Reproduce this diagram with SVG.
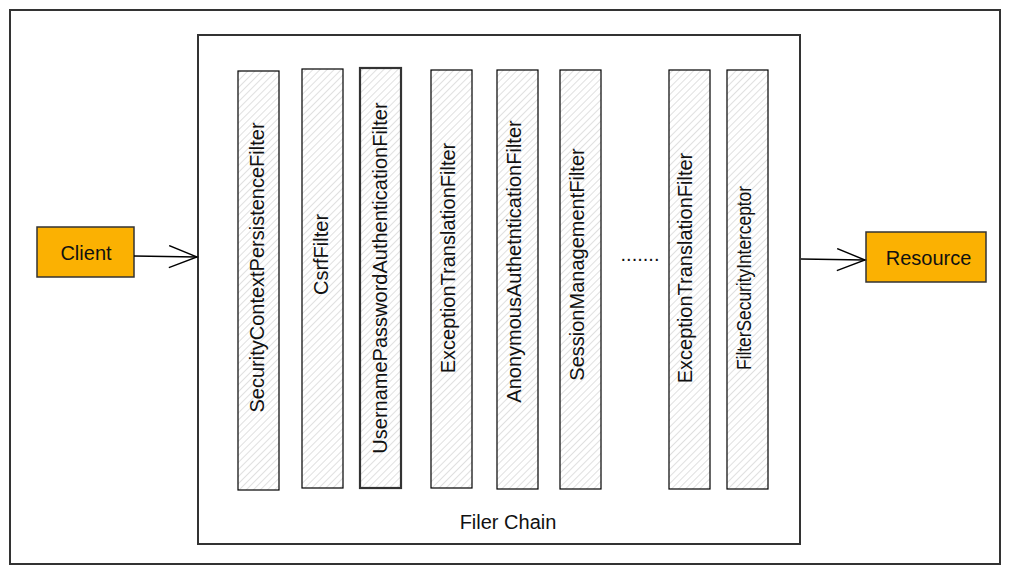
<svg xmlns="http://www.w3.org/2000/svg" width="1010" height="574" viewBox="0 0 1010 574">
<style>
text{font-family:"Liberation Sans",Arial,sans-serif;font-size:20px;fill:#111}
.frame{fill:#fff;stroke:#333;stroke-width:2}
.filter{fill:url(#hatch);stroke:#000;stroke-width:1.2}
.filter.bold{stroke:#333;stroke-width:2.2}
.ext{fill:#FBB102;stroke:#333;stroke-width:1.5}
.conn{stroke:#000;stroke-width:1.3;fill:none;marker-end:url(#open)}
</style>
<defs>
<pattern id="hatch" patternUnits="userSpaceOnUse" width="5" height="5" patternTransform="rotate(45)">
<rect width="5" height="5" fill="#fff"/>
<line x1="0" y1="0" x2="0" y2="5" stroke="#d6d6d6" stroke-width="1.5"/>
</pattern>
<marker id="open" markerUnits="userSpaceOnUse" markerWidth="32" markerHeight="26" refX="29" refY="12" orient="auto">
<path d="M1,1 L29,12 L1,23" fill="none" stroke="#000" stroke-width="1.4"/>
</marker>
</defs>
<g id="outer"><rect class="frame" x="10" y="10" width="990" height="554"/></g>
<g id="filer-chain">
<rect class="frame" x="198" y="35" width="602" height="509"/>
<text x="508" y="529" text-anchor="middle">Filer Chain</text>
</g>
<g id="f1"><rect class="filter" x="238" y="71" width="41" height="419"/>
<text transform="translate(257,267.5) rotate(-90)" y="7" text-anchor="middle">SecurityContextPersistenceFilter</text></g>
<g id="f2"><rect class="filter" x="302" y="69" width="41" height="419"/>
<text transform="translate(321,254.5) rotate(-90)" y="7" text-anchor="middle">CsrfFilter</text></g>
<g id="f3"><rect class="filter bold" x="360" y="68" width="41" height="420"/>
<text transform="translate(380,278) rotate(-90)" y="7" text-anchor="middle">UsernamePasswordAuthenticationFilter</text></g>
<g id="f4"><rect class="filter" x="431" y="70" width="41" height="418"/>
<text transform="translate(448,258) rotate(-90)" y="7" text-anchor="middle">ExceptionTranslationFilter</text></g>
<g id="f5"><rect class="filter" x="497" y="70" width="41" height="419"/>
<text transform="translate(514,261.5) rotate(-90)" y="7" text-anchor="middle">AnonymousAuthetnticationFilter</text></g>
<g id="f6"><rect class="filter" x="560" y="70" width="41" height="419"/>
<text transform="translate(577,264.5) rotate(-90)" y="7" text-anchor="middle">SessionManagementFilter</text></g>
<g id="ellipsis"><text x="640" y="261" text-anchor="middle">.......</text></g>
<g id="f7"><rect class="filter" x="669" y="70" width="41" height="419"/>
<text transform="translate(685,268) rotate(-90)" y="7" text-anchor="middle">ExceptionTranslationFilter</text></g>
<g id="f8"><rect class="filter" x="727" y="70" width="41" height="419"/>
<text transform="translate(744,278) rotate(-90)" y="7" text-anchor="middle" textLength="184" lengthAdjust="spacingAndGlyphs">FilterSecurityInterceptor</text></g>
<g id="client"><rect class="ext" x="37" y="227" width="97" height="50"/>
<text x="86" y="260" text-anchor="middle">Client</text></g>
<g id="resource"><rect class="ext" x="866" y="232" width="120" height="50"/>
<text x="928.5" y="265" text-anchor="middle">Resource</text></g>
<g id="connectors">
<line class="conn" x1="134" y1="256" x2="197" y2="257"/>
<line class="conn" x1="801" y1="259" x2="865" y2="260"/>
</g>
</svg>
